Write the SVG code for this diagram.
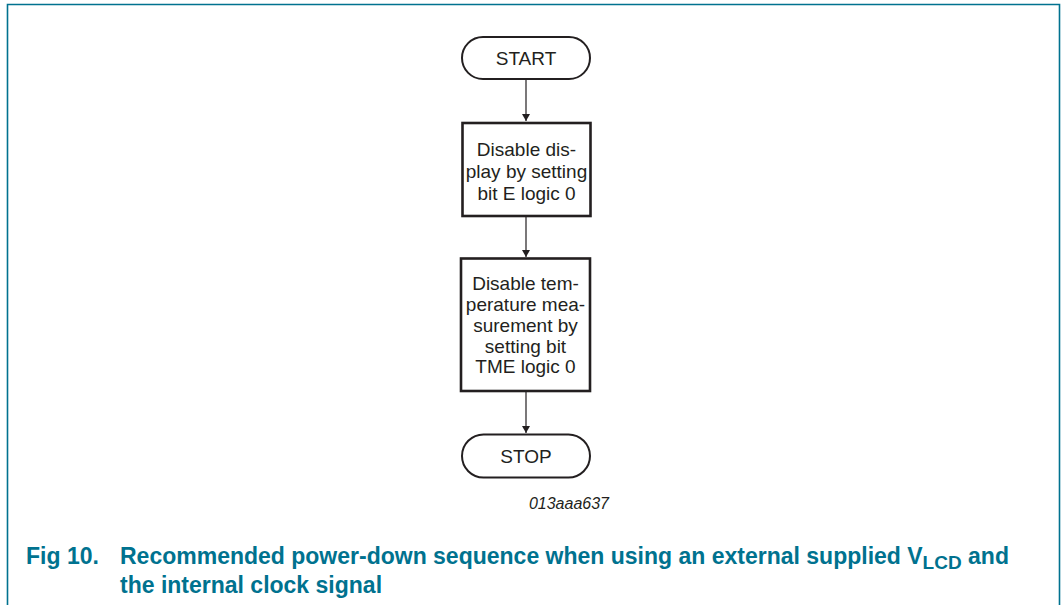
<svg xmlns="http://www.w3.org/2000/svg" width="1063" height="605" viewBox="0 0 1063 605">
<defs>
<style>
.term{fill:#fff;stroke:#231f20;stroke-width:2}
.box{fill:#fff;stroke:#231f20;stroke-width:2.6}
.t{font-family:"Liberation Sans",Arial,sans-serif;font-size:19px;fill:#231f20;text-anchor:middle}
.conn{stroke:#231f20;stroke-width:1.2;fill:none;marker-end:url(#ah)}
.cap{font-family:"Liberation Sans",Arial,sans-serif;font-weight:bold;font-size:23px;fill:#00728f}
</style>
<marker id="ah" markerWidth="8" markerHeight="10" refX="7" refY="4" orient="auto" markerUnits="userSpaceOnUse" viewBox="0 0 8 8">
<path d="M0,0 L7,4 L0,8 z" fill="#231f20"/>
</marker>
</defs>
<rect width="1063" height="605" fill="#fff"/>
<path d="M7.5,605 V4.5 H1059.5 V605" fill="none" stroke="#00728f" stroke-width="1.6"/>
<g id="connectors">
<line class="conn" x1="526" y1="80" x2="526" y2="121"/>
<line class="conn" x1="526" y1="217" x2="526" y2="257"/>
<line class="conn" x1="526" y1="392" x2="526" y2="433"/>
</g>
<g id="start">
<rect class="term" x="462" y="37" width="128" height="42" rx="21"/>
<text class="t" x="526" y="65">START</text>
</g>
<g id="disable-display">
<rect class="box" x="462.5" y="123" width="128" height="93"/>
<text class="t" x="526.5" y="156">Disable dis-</text>
<text class="t" x="526.5" y="178">play by setting</text>
<text class="t" x="526.5" y="200">bit E logic 0</text>
</g>
<g id="disable-temp">
<rect class="box" x="461" y="258.5" width="129" height="132.5"/>
<text class="t" x="525.5" y="289.5">Disable tem-</text>
<text class="t" x="525.5" y="310.5">perature mea-</text>
<text class="t" x="525.5" y="331.5">surement by</text>
<text class="t" x="525.5" y="352.5">setting bit</text>
<text class="t" x="525.5" y="373">TME logic 0</text>
</g>
<g id="stop">
<rect class="term" x="462" y="434.5" width="128" height="43" rx="21.5"/>
<text class="t" x="526" y="463">STOP</text>
</g>
<text x="609" y="509" font-family="Liberation Sans,Arial,sans-serif" font-style="italic" font-size="16" fill="#231f20" text-anchor="end">013aaa637</text>
<text class="cap" x="26" y="564">Fig 10.</text>
<text class="cap" x="120" y="564">Recommended power-down sequence when using an external supplied V<tspan dy="5" font-size="19">LCD</tspan><tspan dy="-5"> and</tspan></text>
<text class="cap" x="120" y="593">the internal clock signal</text>
</svg>
